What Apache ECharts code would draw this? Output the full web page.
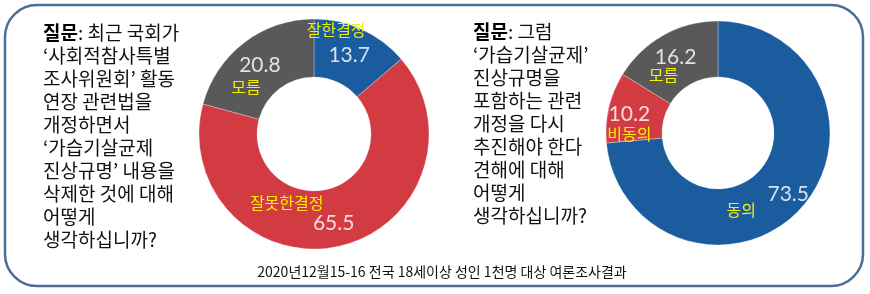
<!DOCTYPE html>
<html><head><meta charset="utf-8">
<script src="https://cdn.jsdelivr.net/npm/echarts@6/dist/echarts.min.js"></script>
<style>html,body{margin:0;padding:0;background:#fff}#c{width:870px;height:294px}</style>
</head><body><div id="c"></div>
<script>
// ---- data ----
const leftNames = ['잘한결정', '잘못한결정', '모름'];
const leftValues = [13.7, 65.5, 20.8];
const rightNames = ['동의', '비동의', '모름'];
const rightValues = [73.5, 10.2, 16.2];
const leftQuestion = [
  '{b|질문}: 최근 국회가',
  '‘사회적참사특별',
  '조사위원회’ 활동',
  '연장 관련법을',
  '개정하면서',
  '‘가습기살균제',
  '진상규명’ 내용을',
  '삭제한 것에 대해',
  '어떻게',
  '생각하십니까?'
];
const rightQuestion = [
  '{b|질문}: 그럼',
  '‘가습기살균제’',
  '진상규명을',
  '포함하는 관련',
  '개정을 다시',
  '추진해야 한다',
  '견해에 대해',
  '어떻게',
  '생각하십니까?'
];
const footerText = '2020년12월15-16 전국 18세이상 성인 1천명 대상 여론조사결과';

// ---- styles ----
const BLUE = '#1b5c9e', RED = '#d33b42', GRAY = '#595959';
const KR = '"Noto Sans CJK KR", "Noto Sans", sans-serif';
const NUM = 'Lato, "Noto Sans", sans-serif';

const leftCfg = [
  {nameFirst: true,  pad: 26, vlh: 28, nlh: 22, dx: -15, dy: -9},
  {nameFirst: true,  pad: 94, vlh: 20, nlh: 20, dx: -47, dy: -8},
  {nameFirst: false, pad: 28, vlh: 22, nlh: 22, dx: -14, dy: 13}
];
const rightCfg = [
  {nameFirst: false, pad: 94, vlh: 16, nlh: 14, dx: -41, dy: 10},
  {nameFirst: false, pad: 0,  vlh: 22, nlh: 18, dx: -4,  dy: 10},
  {nameFirst: false, pad: 24, vlh: 20, nlh: 16, dx: -12, dy: 8}
];

function makeRich(cfg) {
  const r = {};
  cfg.forEach((c, i) => {
    r['v' + i] = {fontFamily: NUM, fontSize: 21, color: 'rgba(255,255,255,0.82)', lineHeight: c.vlh, padding: [0, 0, 0, c.pad]};
    r['n' + i] = {fontFamily: KR, fontSize: 16, color: '#f5f000', lineHeight: c.nlh};
  });
  return r;
}
function makeFormatter(cfg) {
  return function (p) {
    const i = p.dataIndex, c = cfg[i];
    const v = '{v' + i + '|' + p.value + '}';
    const n = '{n' + i + '|' + p.name + '}';
    return c.nameFirst ? n + '\n' + v : v + '\n' + n;
  };
}
function makePie(names, values, colors, cfg, center, radius) {
  return {
    type: 'pie',
    center: center,
    radius: radius,
    startAngle: 90,
    clockwise: true,
    silent: true,
    animation: false,
    itemStyle: {borderColor: 'rgba(255,255,255,0.5)', borderWidth: 0.6},
    label: {show: true, position: 'inside', rotate: 0, formatter: makeFormatter(cfg), rich: makeRich(cfg)},
    labelLine: {show: false},
    labelLayout: function (params) { const c = cfg[params.dataIndex]; return {dx: c.dx, dy: c.dy}; },
    emphasis: {disabled: true},
    data: names.map((n, i) => ({name: n, value: values[i], itemStyle: {color: colors[i]}}))
  };
}

const chart = echarts.init(document.getElementById('c'));
chart.setOption({
  animation: false,
  graphic: [
    {type: 'rect', z: -10, shape: {x: 5, y: 5, width: 858, height: 281, r: 32},
     style: {fill: 'none', stroke: '#4d6d94', lineWidth: 2.5}},
    {type: 'text', x: 43, y: 21, style: {text: leftQuestion.join('\n'), fill: '#111',
      fontFamily: KR, fontSize: 19, lineHeight: 23,
      rich: {b: {fontFamily: KR, fontSize: 19, fontWeight: 'bold', lineHeight: 23, fill: '#000'}}}},
    {type: 'text', x: 473, y: 20, style: {text: rightQuestion.join('\n'), fill: '#111',
      fontFamily: KR, fontSize: 19, lineHeight: 23,
      rich: {b: {fontFamily: KR, fontSize: 19, fontWeight: 'bold', lineHeight: 23, fill: '#000'}}}},
    {type: 'text', x: 442, y: 272, style: {text: footerText, fill: '#111', fontFamily: KR, fontSize: 14,
      align: 'center', verticalAlign: 'middle'}}
  ],
  series: [
    makePie(leftNames, leftValues, [BLUE, RED, GRAY], leftCfg, [314, 134], [57, 115]),
    makePie(rightNames, rightValues, [BLUE, RED, GRAY], rightCfg, [718, 133], [56, 112])
  ]
});
</script>
</body></html>
